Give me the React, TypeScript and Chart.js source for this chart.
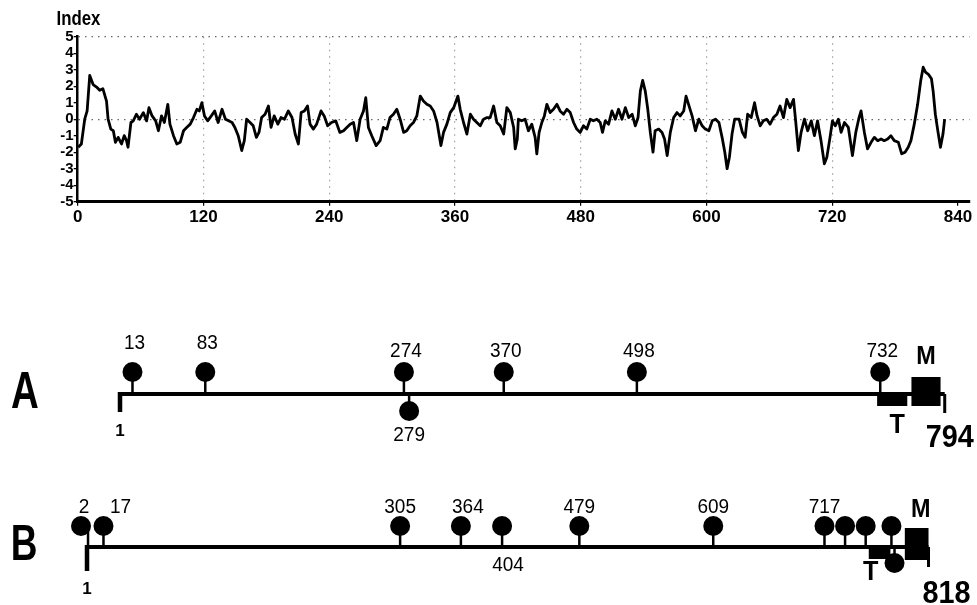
import React, { useEffect, useRef } from "react";
import { Chart, registerables } from "chart.js";

Chart.register(...registerables);

// ---------- Hydropathy profile (top panel) ----------
const residues = [
  0.5, 3.5, 6.7, 9, 11.5, 14.7, 18, 21, 24, 27.5, 29, 31.6, 34, 36, 38.6, 41.8, 44.4, 46.6, 48,
  50.8, 53, 56, 59, 62.6, 65.8, 68, 71, 74.4, 77, 80, 82.7, 86, 88, 91.4, 94.6, 97.8, 101, 104,
  107.4, 110.5, 113.8, 116, 118.5, 121, 124, 127.5, 130.7, 134, 137.7, 141, 144, 147.3, 150,
  153.2, 156.5, 159, 161.2, 164.5, 167.5, 170.5, 173, 175.5, 178.8, 182, 184.5, 187.5, 191, 194,
  197.3, 201, 204.5, 207.5, 210.6, 213.2, 216.3, 219.3, 221.7, 224.9, 228, 232.2, 235.2, 238.5,
  242.2, 246.2, 250.2, 253.7, 256.8, 260, 263.2, 266.3, 269.5, 272.7, 274.9, 277.4, 280.6, 284.8,
  288.6, 291.7, 295, 298, 301.3, 304.5, 307.7, 311, 314, 317.2, 320.4, 323.6, 326.9, 329.9, 333.2,
  336.4, 339.6, 342.9, 346.6, 349.1, 352.3, 355.5, 358.8, 362.8, 365, 368.2, 371.4, 374.7, 377.7,
  380.9, 384.1, 387.3, 390.6, 393.6, 396.9, 400, 403.2, 406.5, 409.5, 412.8, 416, 417.5, 419.5,
  420.5, 423.7, 426.9, 430.1, 433.3, 436.5, 438.1, 440.3, 442.9, 445.3, 447.7, 450.8, 454, 457.3,
  460.3, 463.6, 466.8, 470, 473.2, 476.2, 479.5, 482.6, 485.8, 489.1, 492.1, 495.4, 498.6, 500.8,
  503.4, 506.6, 509.8, 513, 516.1, 519.4, 522.6, 525.8, 529.1, 532.1, 534.7, 536.9, 539.1, 541.6,
  544, 546.4, 549, 551, 554.4, 557.6, 560, 562.5, 565.5, 568.7, 571.9, 574.9, 578.3, 580.5, 582.9,
  586.3, 589.5, 592.7, 595.9, 598.9, 602.3, 605.5, 608.7, 611.9, 614.9, 617.5, 619.7, 621.9, 624.4,
  626.9, 631.1, 634.3, 636.9, 639.3, 642.7, 645.9, 648.3, 651.3, 654.3, 657.5, 660.7, 663.9, 667.2,
  670.2, 673.5, 676.6, 679.8, 683.1, 685.1, 687.7, 690.3, 693.5, 696.6, 700, 703, 706, 709.3, 712.5,
  714.9, 717.9, 720.2, 722.9, 725.9, 728.5, 731.7, 735.4, 739.3, 742.5, 745.6, 747.5, 750.7, 753.7,
  757.1, 760.2, 763.4, 766.6, 769.6, 772.9, 776, 779.2, 783.1, 786.3, 789.5, 792.5, 795.1, 798.3,
  801.5, 804.5, 806.8, 809, 812.1, 814.7, 816.3, 818.4, 821, 823.3, 825.7, 827.3,
];

const hydropathy = [
  -1.7, -1.5, 0.0, 0.5, 2.65, 2.1, 1.95, 1.75, 1.85, 1.1, 0, -0.6, -0.7, -1.4, -1.1, -1.5, -1.0, -1.3, -1.7,
  -0.2, -0.1, 0.3, 0, 0.4, -0.1, 0.7, 0.2, -0.1, -0.7, 0.2, -0.2, 0.9, -0.3, -1.0, -1.5, -1.4, -0.7, -0.5,
  -0.3, 0.1, 0.6, 0.5, 1.0, 0.2, -0.1, 0.2, 0.5, -0.2, 0.6, 0, -0.1, -0.2, -0.5,
  -1.0, -1.9, -1.3, 0, -0.2, -0.4, -1.1, -0.8, 0.1, 0.3, 0.8, -0.5, 0.2, -0.3, 0.1,
  0, 0.5, 0.1, -0.9, -1.5, 0.4, 0.5, 0.8, -0.3, -0.6, -0.3, 0.5, 0.2, -0.4,
  -0.2, -0.1, -0.8, -0.7, -0.5, -0.3, -0.2, -1.3, 0, 0.5, 1.3, -0.5, -1.0, -1.6,
  -1.3, -0.5, -0.6, 0.1, 0.3, 0.6, 0, -0.8, -0.7, -0.4, -0.2, 0.2, 1.4, 1.1, 0.9,
  0.8, 0.5, -0.2, -1.6, -0.8, -0.3, 0.4, 0.7, 1.4, 0.6, -0.2, -0.9, 0.3, 0,
  -0.2, -0.4, 0, 0.1, 0.1, 0.8, -0.2, -0.4, -0.9, 0.7, 0.4, -0.5, -1.8, -1.2,
  0, -0.1, 0, -0.7, -0.3, -1.1, -2.1, -0.8, -0.2, 0.2, 0.9, 0.4, 0.6, 0.9,
  0.5, 0.3, 0.6, 0.4, -0.2, -0.6, -0.8, -0.4, -0.6, 0, -0.1, 0, -0.2, -0.8,
  -0.1, -0.3, 0.5, 0, 0.6, 0, 0.7, 0.1, 0.3, -0.4, 0.1, 1.7, 2.35, 1.7,
  0.6, -0.8, -2.0, -0.7, -0.6, -0.8, -1.2, -2.2, -0.8, 0.1, 0.4, 0.2, 0.5, 1.4, 0.9,
  0.2, -0.7, 0, -0.4, -0.6, -0.7, -0.1, 0, -0.2, -1.1, -2.0, -3.0, -2.3, -0.9,
  0, 0, -0.8, -1.1, 0.3, 0.1, 1.0, 0.2, -0.4, -0.1, 0, -0.3, 0.1, 0.3,
  0.8, 0.1, 1.2, 0.7, 1.2, -0.1, -1.9, -0.8, 0, -0.7, -0.1, -1.0, -0.1, -1.3, -2.7,
  -2.3, -1.1, -0.1, -0.4, 0, -0.8, -0.2, -0.5, -2.2, -0.8, 0.1, 0.5, -0.8, -1.8,
  -1.4, -1.1, -1.3, -1.2, -1.3, -1.2, -1.0, -1.3, -1.4, -2.1, -2.0, -1.7, -1.3, -0.3,
  0.9, 2.35, 3.15, 2.85, 2.7, 2.45, 1.7, 0.3, -0.8, -1.7, -0.9, 0,
];

const xTickValues = [0, 120, 240, 360, 480, 600, 720, 840];
const yTickValues = [-5, -4, -3, -2, -1, 0, 1, 2, 3, 4, 5];
const yAxisTitle = "Index";

// ---------- Protein schematics (bottom panel) ----------
const lengthA = 794;
const pinsAboveA = [13, 83, 274, 370, 498, 732];
const pinsBelowA = [279];
const regionTA = [729, 758];
const regionMA = [762, 790];

const lengthB = 818;
const pinsAboveB = [2, 17, 305, 364, 404, 479, 609, 717, 737, 757, 782];
const labelsAboveB = [2, 17, 305, 364, 479, 609, 717];
const labelsBelowB = [404];
const pinsBelowB = [785];
const regionTB = [760, 781];
const regionMB = [795, 818];

// ---------- layout / style ----------
const W = 977;
const TOP_H = 230;
const BOT_H = 375;
const A_START_PX = 120;
const A_PX_PER_RES = 1.04;
const B_START_PX = 87;
const B_PX_PER_RES = 1.03;
const BASE_A = 164;
const BASE_B = 317;
const HEAD_A = 22;
const HEAD_B = 21;
const BELOW_A = 17;
const BELOW_B = 16;
const headShiftPxB: Record<number, number> = { 2: -7 };
const labelShiftPxB: Record<number, number> = { 2: -4, 17: 17, 364: 7, 404: 6 };
const labelLiftA: Record<number, number> = { 13: 8, 83: 8 };

const SANS = "'Liberation Sans', Arial, sans-serif";

function stems(pins: number[], base: number, tip: number) {
  const d: any[] = [];
  pins.forEach((p) => {
    d.push({ x: p, y: base }, { x: p, y: tip }, { x: p, y: null });
  });
  return d;
}

function drawText(ctx: CanvasRenderingContext2D, s: string, x: number, y: number, font: string, sx = 1) {
  ctx.save();
  ctx.font = font;
  ctx.textAlign = "center";
  ctx.textBaseline = "middle";
  ctx.translate(x, y);
  ctx.scale(sx, 1);
  ctx.fillText(s, 0, 0);
  ctx.restore();
}

function TopChart() {
  const ref = useRef<HTMLCanvasElement>(null);
  useEffect(() => {
    const titlePlugin = {
      id: "indexTitle",
      afterDraw(chart: any) {
        const ctx = chart.ctx;
        ctx.fillStyle = "#000";
        drawText(ctx, yAxisTitle, 78.5, 19, `bold 21px ${SANS}`, 0.8);
      },
    };
    const chart = new Chart(ref.current!, {
      type: "line",
      data: {
        datasets: [
          {
            data: residues.map((r, i) => ({ x: r, y: hydropathy[i] })),
            borderColor: "#000",
            borderWidth: 2.8,
            pointRadius: 0,
            tension: 0,
            borderJoinStyle: "round",
          } as any,
        ],
      },
      options: {
        responsive: false,
        animation: false,
        layout: { autoPadding: false, padding: { top: 36.7, right: 7.5, left: 0, bottom: 0 } },
        plugins: { legend: { display: false }, tooltip: { enabled: false }, title: { display: false } },
        scales: {
          x: {
            type: "linear",
            min: 0,
            max: 851,
            afterBuildTicks: (s: any) => {
              s.ticks = xTickValues.map((v) => ({ value: v }));
            },
            afterFit: (s: any) => {
              s.height = 28.3;
            },
            ticks: {
              color: "#000",
              font: { family: SANS, weight: "bold", size: 17 },
              padding: 1,
              maxRotation: 0,
              autoSkip: false,
            },
            grid: {
              color: (c: any) =>
                c.tick && c.tick.value > 0 && c.tick.value < 840 ? "#a0a0a0" : "rgba(0,0,0,0)",
              tickColor: "#000",
              tickLength: 4,
              lineWidth: 1.2,
            },
            border: { color: "#000", width: 3, dash: [1.5, 5] },
          },
          y: {
            type: "linear",
            min: -5,
            max: 5,
            afterBuildTicks: (s: any) => {
              s.ticks = yTickValues.map((v) => ({ value: v }));
            },
            afterFit: (s: any) => {
              s.width = 77.7;
            },
            ticks: {
              color: "#000",
              font: { family: SANS, weight: "bold", size: 15 },
              padding: 0,
              autoSkip: false,
            },
            grid: {
              color: (c: any) =>
                c.tick && (c.tick.value === 5 || c.tick.value === 0) ? "#666" : "rgba(0,0,0,0)",
              tickColor: "#000",
              tickLength: 4,
              lineWidth: 1.3,
            },
            border: { color: "#000", width: 2.5, dash: [1.5, 5] },
          },
        },
      } as any,
      plugins: [titlePlugin],
    });
    return () => chart.destroy();
  }, []);
  return <canvas ref={ref} width={W} height={TOP_H} style={{ display: "block" }} />;
}

function BottomChart() {
  const ref = useRef<HTMLCanvasElement>(null);
  useEffect(() => {
    const black = "#000";
    const lineDs = (data: any[], axis: string, width: number) => ({
      type: "line",
      data,
      xAxisID: axis,
      yAxisID: "y",
      showLine: true,
      borderColor: black,
      borderWidth: width,
      pointRadius: 0,
      spanGaps: false,
      borderCapStyle: "butt",
    });
    const headDs = (data: any[], axis: string) => ({
      type: "scatter",
      data,
      xAxisID: axis,
      yAxisID: "y",
      pointRadius: 10,
      pointBorderWidth: 0,
      backgroundColor: black,
      borderColor: black,
    });

    const textPlugin = {
      id: "schemeText",
      afterDatasetsDraw(chart: any) {
        const ctx = chart.ctx;
        const xA = chart.scales.xA;
        const xB = chart.scales.xB;
        const y = chart.scales.y;
        const Y = (v: number) => y.getPixelForValue(v);
        ctx.save();
        ctx.fillStyle = black;
        // T and M regions
        const box = (sc: any, r: number[], top: number, bottom: number) => {
          const x1 = sc.getPixelForValue(r[0]);
          const x2 = sc.getPixelForValue(r[1]);
          ctx.fillRect(x1, Y(top), x2 - x1, Y(bottom) - Y(top));
        };
        box(xA, regionTA, BASE_A - 2, BASE_A + 12);
        box(xA, regionMA, BASE_A - 17, BASE_A + 12);
        box(xB, regionTB, BASE_B - 2, BASE_B + 12);
        box(xB, regionMB, BASE_B - 19, BASE_B + 13);

        const numFont = `20px ${SANS}`;
        pinsAboveA.forEach((p) => {
          drawText(ctx, String(p), xA.getPixelForValue(p) + 2, Y(BASE_A - 43 - (labelLiftA[p] || 0)), numFont, 0.95);
        });
        pinsBelowA.forEach((p) => {
          drawText(ctx, String(p), xA.getPixelForValue(p), Y(BASE_A + 41), numFont, 0.95);
        });
        labelsAboveB.forEach((p) => {
          drawText(ctx, String(p), xB.getPixelForValue(p) + (labelShiftPxB[p] || 0), Y(BASE_B - 40), numFont, 0.95);
        });
        labelsBelowB.forEach((p) => {
          drawText(ctx, String(p), xB.getPixelForValue(p) + (labelShiftPxB[p] || 0), Y(BASE_B + 18), numFont, 0.95);
        });

        // start labels "1"
        drawText(ctx, "1", xA.getPixelForValue(1), Y(BASE_A + 37), `bold 17px ${SANS}`);
        drawText(ctx, "1", xB.getPixelForValue(1), Y(BASE_B + 42), `bold 17px ${SANS}`);

        // lengths
        drawText(ctx, String(lengthA), xA.getPixelForValue(lengthA) + 5, Y(BASE_A + 44), `bold 32px ${SANS}`, 0.9);
        drawText(ctx, String(lengthB), xB.getPixelForValue(lengthB) + 18, Y(BASE_B + 47), `bold 32px ${SANS}`, 0.9);

        // M and T
        const mid = (r: number[]) => (r[0] + r[1]) / 2;
        drawText(ctx, "M", xA.getPixelForValue(mid(regionMA)), Y(BASE_A - 37), `bold 26px ${SANS}`, 0.9);
        drawText(ctx, "M", xB.getPixelForValue(mid(regionMB)) + 4, Y(BASE_B - 37), `bold 26px ${SANS}`, 0.9);
        drawText(ctx, "T", xA.getPixelForValue(mid(regionTA)) + 5, Y(BASE_A + 31), `bold 28px ${SANS}`, 0.9);
        drawText(ctx, "T", xB.getPixelForValue(regionTB[0]) + 2, Y(BASE_B + 25), `bold 28px ${SANS}`, 0.9);

        // row letters
        drawText(ctx, "A", 25, Y(BASE_A), `bold 52px ${SANS}`, 0.74);
        drawText(ctx, "B", 24, Y(BASE_B - 1), `bold 50px ${SANS}`, 0.74);
        ctx.restore();
      },
    };

    const chart = new Chart(ref.current!, {
      type: "scatter",
      data: {
        datasets: [
          lineDs([{ x: 1, y: BASE_A }, { x: lengthA, y: BASE_A }], "xA", 4),
          lineDs([{ x: 1, y: BASE_A - 2 }, { x: 1, y: BASE_A + 18 }], "xA", 4.5),
          lineDs([{ x: lengthA, y: BASE_A }, { x: lengthA, y: BASE_A + 19 }], "xA", 3),
          lineDs(stems(pinsAboveA, BASE_A, BASE_A - HEAD_A), "xA", 2.5),
          lineDs(stems(pinsBelowA, BASE_A, BASE_A + BELOW_A), "xA", 2.5),
          headDs(pinsAboveA.map((p) => ({ x: p, y: BASE_A - HEAD_A })), "xA"),
          headDs(pinsBelowA.map((p) => ({ x: p, y: BASE_A + BELOW_A })), "xA"),

          lineDs([{ x: 1, y: BASE_B }, { x: lengthB, y: BASE_B }], "xB", 4),
          lineDs([{ x: 1, y: BASE_B - 2 }, { x: 1, y: BASE_B + 24 }], "xB", 4.5),
          lineDs([{ x: lengthB, y: BASE_B }, { x: lengthB, y: BASE_B + 20 }], "xB", 3),
          lineDs(stems(pinsAboveB, BASE_B, BASE_B - HEAD_B), "xB", 2.5),
          lineDs(stems(pinsBelowB, BASE_B, BASE_B + BELOW_B), "xB", 2.5),
          headDs(
            pinsAboveB.map((p) => ({ x: p + (headShiftPxB[p] || 0) / B_PX_PER_RES, y: BASE_B - HEAD_B })),
            "xB"
          ),
          headDs(pinsBelowB.map((p) => ({ x: p, y: BASE_B + BELOW_B })), "xB"),
        ] as any,
      },
      options: {
        responsive: false,
        animation: false,
        layout: { autoPadding: false, padding: 0 },
        plugins: { legend: { display: false }, tooltip: { enabled: false } },
        scales: {
          xA: {
            type: "linear",
            position: "bottom",
            display: false,
            min: 1 - A_START_PX / A_PX_PER_RES,
            max: 1 + (W - A_START_PX) / A_PX_PER_RES,
          },
          xB: {
            type: "linear",
            position: "bottom",
            display: false,
            min: 1 - B_START_PX / B_PX_PER_RES,
            max: 1 + (W - B_START_PX) / B_PX_PER_RES,
          },
          y: { type: "linear", display: false, min: 0, max: BOT_H, reverse: true },
        },
      } as any,
      plugins: [textPlugin],
    });
    return () => chart.destroy();
  }, []);
  return <canvas ref={ref} width={W} height={BOT_H} style={{ display: "block" }} />;
}

export default function App() {
  return (
    <div style={{ position: "absolute", left: 0, top: 0, width: W, height: TOP_H + BOT_H, background: "#fff" }}>
      <TopChart />
      <BottomChart />
    </div>
  );
}
